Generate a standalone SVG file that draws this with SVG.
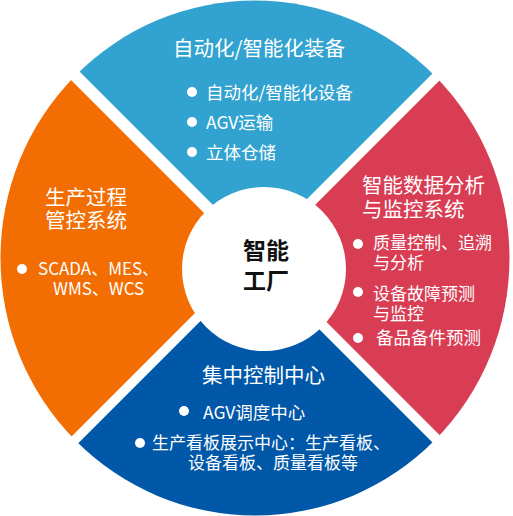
<svg xmlns="http://www.w3.org/2000/svg" width="513" height="516" viewBox="0 0 513 516">
<style>
text{font-family:"Noto Sans CJK SC","Noto Sans",sans-serif;fill:#fff}
.t{font-size:20.5px}
.b{font-size:17.5px}
.w{font-size:17px}
.c{font-size:23px;font-weight:bold;fill:#111}
.dot{fill:#fff}
</style>
<defs>
<clipPath id="cpBlue"><polygon points="257,249 -43,-51 557,-51"/></clipPath>
<clipPath id="cpRed"><polygon points="262.25,257.75 562.25,-42.25 562.25,557.75"/></clipPath>
<clipPath id="cpDark"><polygon points="255.75,265.75 555.75,565.75 -44.25,565.75"/></clipPath>
<clipPath id="cpOrange"><polygon points="249.5,258.5 -50.5,-41.5 -50.5,558.5"/></clipPath>
<ellipse id="disk" cx="255" cy="258" rx="254.5" ry="257.5"/>
</defs>
<rect width="513" height="516" fill="#fff"/>
<g id="segments">
<use href="#disk" fill="#32A3D0" clip-path="url(#cpBlue)"/>
<use href="#disk" fill="#D93D54" clip-path="url(#cpRed)"/>
<use href="#disk" fill="#0157A8" clip-path="url(#cpDark)"/>
<use href="#disk" fill="#F26D02" clip-path="url(#cpOrange)"/>
</g>
<g id="center">
<circle cx="264" cy="269" r="82" fill="#fff"/>
<text class="c" x="266" y="259" text-anchor="middle">智能<tspan x="266" dy="30">工厂</tspan></text>
</g>
<g id="equipment">
<text class="t" x="259" y="56" text-anchor="middle">自动化/智能化装备</text>
<circle class="dot" cx="192" cy="92" r="5"/>
<text class="b" x="206" y="99">自动化/智能化设备</text>
<circle class="dot" cx="192" cy="122" r="5"/>
<text class="b" x="206" y="129">AGV运输</text>
<circle class="dot" cx="192" cy="152" r="5"/>
<text class="b" x="206" y="159">立体仓储</text>
</g>
<g id="analysis">
<text class="t" x="362" y="193">智能数据分析<tspan x="362" dy="24">与监控系统</tspan></text>
<circle class="dot" cx="358" cy="244" r="5"/>
<text class="w" x="373" y="249">质量控制、追溯<tspan x="373" dy="20">与分析</tspan></text>
<circle class="dot" cx="358" cy="292" r="5"/>
<text class="w" x="373" y="300">设备故障预测<tspan x="373" dy="20">与监控</tspan></text>
<circle class="dot" cx="358" cy="338" r="5"/>
<text class="b" x="376" y="344">备品备件预测</text>
</g>
<g id="control">
<text class="t" x="202" y="383">集中控制中心</text>
<circle class="dot" cx="184" cy="411" r="5"/>
<text class="b" x="203" y="419">AGV调度中心</text>
<circle class="dot" cx="140" cy="443" r="5"/>
<text class="w" x="152" y="449">生产看板展示中心：生产看板、<tspan x="188" dy="20">设备看板、质量看板等</tspan></text>
</g>
<g id="process">
<text class="t" x="45" y="205">生产过程<tspan x="45" dy="23">管控系统</tspan></text>
<circle class="dot" cx="22" cy="269" r="5"/>
<text class="w" x="38" y="275">SCADA、MES、<tspan x="53" dy="20">WMS、WCS</tspan></text>
</g>
<g id="connectors"/>
</svg>
